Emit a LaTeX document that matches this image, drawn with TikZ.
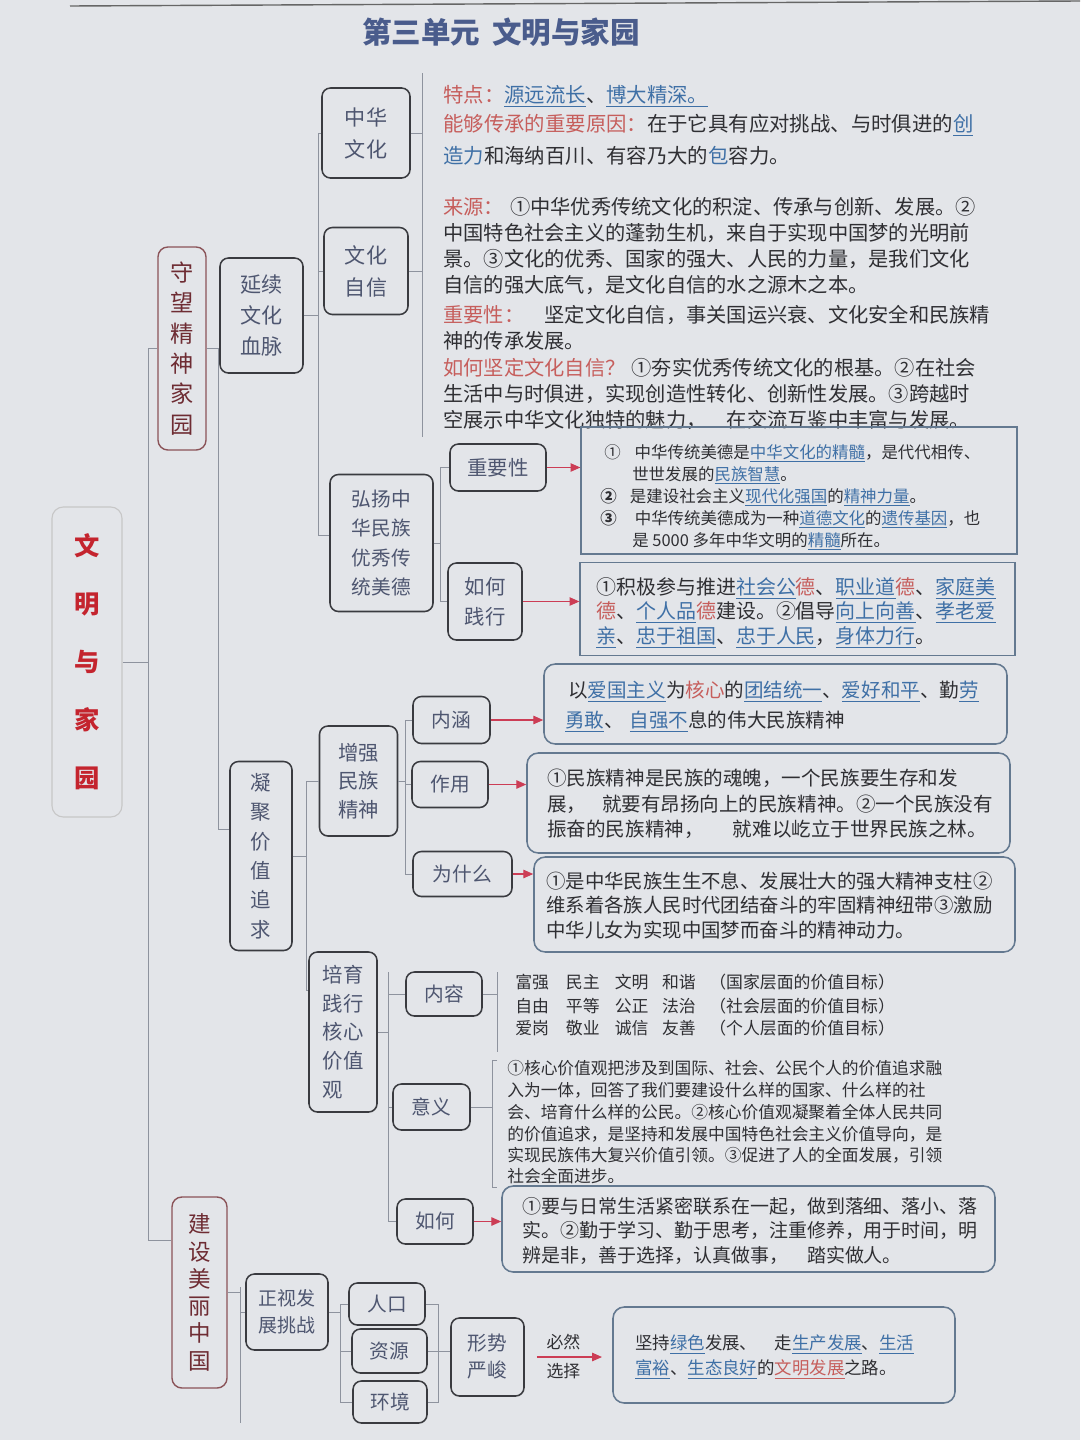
\documentclass[tikz,border=0pt]{standalone}
\usepackage{fontspec}
\setmainfont{Noto Sans CJK SC}
\usetikzlibrary{arrows.meta}
\definecolor{bg}{HTML}{E3E5E9}
\definecolor{ink}{HTML}{2F2F33}
\definecolor{boxtxt}{HTML}{4E5670}
\definecolor{bxcol}{HTML}{3A3B40}
\definecolor{lncol}{HTML}{8E939E}
\definecolor{cred}{HTML}{C65E5C}
\definecolor{cblue}{HTML}{3F70A6}
\definecolor{arrcol}{HTML}{CC3D55}
\definecolor{tbcol}{HTML}{647990}
\definecolor{redbx}{HTML}{8A5358}
\definecolor{redtxt}{HTML}{6E2C33}
\definecolor{rootred}{HTML}{C4242E}
\definecolor{titlec}{HTML}{4A5C8C}
\newcommand\xbu[1]{{\color{cblue}\underline{#1}}}
\newcommand\xru[1]{{\color{cred}\underline{#1}}}
\newcommand\xrd[1]{{\color{cred}#1}}
\newcommand\xbl[1]{{\color{cblue}#1}}
\newcommand\Tline[4]{\node[fs=#1] (#2) at (#3) {#4};}
\begin{document}
\begin{tikzpicture}[x=0.025cm,y=-0.025cm,
  ln/.style={draw=lncol, line width=0.6pt},
  sz/.style 2 args={minimum width=#1*0.025cm, minimum height=#2*0.025cm},
  ff/.style 2 args={font=\fontsize{#1pt}{#2pt}\selectfont},
  fb/.style 2 args={font=\fontsize{#1pt}{#2pt}\selectfont\bfseries},
  bx/.style={draw=bxcol, line width=1.1pt, rounded corners=6pt, text=boxtxt, align=center, inner sep=0pt},
  rb/.style={draw=redbx, line width=1pt, rounded corners=7pt, text=redtxt, align=center, inner sep=0pt},
  tbx/.style={draw=tbcol, line width=1.1pt, rounded corners=8pt},
  sq/.style={draw=tbcol, line width=0.9pt},
  arr/.style={draw=arrcol, line width=0.8pt, -{Triangle[length=7pt,width=6pt]}},
  fs/.style={font=\fontsize{#1pt}{#1pt}\selectfont, anchor=base west, yshift=-0.38*#1pt, inner sep=0pt, text=ink},
]
\fill[bg] (0,0) rectangle (1080,1440);
\useasboundingbox (0,0) rectangle (1080,1440);
\draw[black!60, line width=1pt] (70,6) -- (1080,1);

% title
\node[fb={21}{21}, text=titlec] (title) at (501,32) {第三单元\hspace{0.4em}文明与家园};

% root
\node[draw=black!22, line width=0.8pt, rounded corners=8pt, sz={70}{310}, fb={18}{41.2}, text=rootred, align=center, inner sep=0pt] (root) at (87,662) {文\\明\\与\\家\\园};

% level 1
\node[rb, sz={48}{203}, ff={16.5}{21.6}] (sw) at (182,348.5) {守\\望\\精\\神\\家\\园};
\node[rb, sz={55}{191}, ff={16}{19.4}] (js) at (199.5,1292.5) {建\\设\\美\\丽\\中\\国};
\draw[ln] (root.east) -- (148,662);
\draw[ln] (sw.west) -- (148,348.5) -- (148,1240) -- (js.west |- 148,1240);

% level 2
\node[bx, sz={83}{115}, ff={15}{22}] (yx) at (261.5,315.5) {延续\\文化\\血脉};
\node[bx, sz={62}{189}, ff={14.5}{20.9}] (nj) at (261,856) {凝\\聚\\价\\值\\追\\求};
\draw[ln] (sw.east) -- (sw.east -| yx.west);
\draw[ln] (218,348.5) -- (218,829) -- (nj.west |- 218,829);

% 延续文化血脉
\node[bx, sz={88}{90}, ff={15}{22.75}] (zh) at (366,133) {中华\\文化};
\node[bx, sz={84}{87}, ff={15}{22.75}] (wz) at (366,271) {文化\\自信};
\node[bx, sz={103}{137}, ff={14}{21}] (hy) at (381.5,543) {弘扬中\\华民族\\优秀传\\统美德};
\draw[ln] (yx.east) -- (yx.east -| 318,0);
\draw[ln] (zh.west) -- (318,133) -- (318,535) -- (hy.west |- 318,535);
\draw[ln] (wz.west) -- (wz.west -| 318,0);
\draw[ln] (422,73) -- (422,437);
\draw[ln] (zh.east) -- (zh.east -| 422,0);
\draw[ln] (wz.east) -- (wz.east -| 422,0);

% text block A
\Tline{14.5}{a1}{443,95}{\xrd{特点：}\xbu{源远流长}、\xbu{博大精深。}}
\Tline{14.5}{a2}{443,124}{\xrd{能够传承的重要原因：}在于它具有应对挑战、与时俱进的\xbu{创}}
\Tline{14.5}{a3}{443,156}{\xbl{造力}和海纳百川、有容乃大的\xbl{包}容力。}

% text block B
\Tline{14.4}{b1}{443,207}{\xrd{来源：}\hspace{0.3em}①中华优秀传统文化的积淀、传承与创新、发展。②}
\Tline{14.4}{b2}{443,233}{中国特色社会主义的蓬勃生机，来自于实现中国梦的光明前}
\Tline{14.4}{b3}{443,259}{景。③文化的优秀、国家的强大、人民的力量，是我们文化}
\Tline{14.4}{b4}{443,285}{自信的强大底气，是文化自信的水之源木之本。}
\Tline{14.4}{b5}{443,315}{\xrd{重要性：}\hspace{1em}坚定文化自信，事关国运兴衰、文化安全和民族精}
\Tline{14.4}{b6}{443,341}{神的传承发展。}
\Tline{14.4}{b7}{443,368}{\xrd{如何坚定文化自信？}\hspace{0.3em}①夯实优秀传统文化的根基。②在社会}
\Tline{14.4}{b8}{443,394}{生活中与时俱进，实现创造性转化、创新性发展。③跨越时}
\Tline{14.4}{b9}{443,420}{空展示中华文化独特的魅力，\hspace{1em}在交流互鉴中丰富与发展。}

% 弘扬 children
\node[bx, sz={96}{47}, ff={14.5}{14.5}] (zy) at (498,467.5) {重要性};
\node[bx, sz={74}{77}, ff={14.5}{21.3}] (rh) at (485,601.5) {如何\\践行};
\draw[ln] (hy.east) -- (hy.east -| 440,0);
\draw[ln] (zy.west) -- (zy.west -| 440,0) -- (rh.west -| 440,0) -- (rh.west);
\node[sq, sz={436}{127}] (tb1) at (799,490.5) {};
\node[sq, sz={435}{93}] (tb2) at (797.5,609) {};
\draw[arr] (zy.east) -- (tb1.west |- zy.east);
\draw[arr] (rh.east) -- (tb2.west |- rh.east);

\Tline{11.7}{c1}{604,452}{①\hspace{0.85em}中华传统美德是\xbu{中华文化的精髓}，是代代相传、}
\Tline{11.7}{c2}{632,474}{世世发展的\xbu{民族智慧}。}
\Tline{11.7}{c3}{600,496}{{\bfseries ②}\hspace{0.8em}是建设社会主义\xbu{现代化强国}的\xbu{精神力量}。}
\Tline{11.7}{c4}{600,518}{{\bfseries ③}\hspace{1.1em}中华传统美德成为一种\xbu{道德文化}的\xbu{遗传基因}，也}
\Tline{11.7}{c5}{632,540}{是 5000 多年中华文明的\xbu{精髓}所在。}

\Tline{14.2}{d1}{596,587}{①积极参与推进\xbu{社会公}\xrd{德}、\xbu{职业道}\xrd{德}、\xbu{家庭美}}
\Tline{14.2}{d2}{596,611}{\xrd{德}、\xbu{个人品}\xrd{德}建设。②倡导\xbu{向上向善}、\xbu{孝老爱}}
\Tline{14.2}{d3}{596,636}{\xbu{亲}、\xbu{忠于祖国}、\xbu{忠于人民}，\xbu{身体力行}。}

% 凝聚价值追求 children
\node[bx, sz={78}{110}, ff={14.5}{20.3}] (zq) at (358.5,781) {增强\\民族\\精神};
\node[bx, sz={68}{160}, ff={14.5}{20.4}, align=left] (py) at (343,1032) {培育\\践行\\核心\\价值\\观};
\draw[ln] (nj.east) -- (nj.east -| 306,0);
\draw[ln] (zq.west) -- (306,781) -- (306,990) -- (py.west |- 306,990);

\node[bx, sz={77}{47}, ff={14}{14}] (nh) at (451.5,720) {内涵};
\node[bx, sz={76}{46}, ff={14}{14}] (zyo) at (450,784.5) {作用};
\node[bx, sz={99}{45}, ff={14}{14}] (wsm) at (462.5,874) {为什么};
\draw[ln] (nh.west) -- (405,720) -- (405,874) -- (wsm.west);
\draw[ln] (zyo.west) -- (zyo.west -| 405,0);
\draw[ln] (zq.east) -- (zq.east -| 405,0);

\node[tbx, sz={463}{80}] (tnh) at (775.5,704) {};
\node[tbx, sz={483}{100}] (tzy) at (768.5,803) {};
\node[tbx, sz={481}{95}] (twsm) at (774.5,904.5) {};
\draw[arr] (nh.east) -- (tnh.west |- nh.east);
\draw[arr] (zyo.east) -- (tzy.west |- zyo.east);
\draw[arr] (wsm.east) -- (twsm.west |- wsm.east);

\Tline{13.9}{e1}{568,690}{以\xbu{爱国主义}为\xrd{核心}的\xbu{团结统一}、\xbu{爱好和平}、勤\xbu{劳}}
\Tline{13.9}{e2}{565,720}{\xbu{勇敢}、\hspace{0.3em}\xbu{自强不}息的伟大民族精神}

\Tline{13.9}{f1}{547,778}{①民族精神是民族的魂魄，一个民族要生存和发}
\Tline{13.9}{f2}{547,804}{展，\hspace{0.8em}就要有昂扬向上的民族精神。②一个民族没有}
\Tline{13.9}{f3}{547,829}{振奋的民族精神，\hspace{1.5em}就难以屹立于世界民族之林。}

\Tline{13.8}{g1}{546,881}{①是中华民族生生不息、发展壮大的强大精神支柱②}
\Tline{13.8}{g2}{546,905}{维系着各族人民时代团结奋斗的牢固精神纽带③激励}
\Tline{13.8}{g3}{546,930}{中华儿女为实现中国梦而奋斗的精神动力。}

% 培育践行核心价值观 children
\node[bx, sz={76}{44}, ff={14}{14}] (nr) at (444,994) {内容};
\node[bx, sz={77}{46}, ff={14}{14}] (yy) at (431.5,1107) {意义};
\node[bx, sz={76}{45}, ff={14}{14}] (rh2) at (435,1221.5) {如何};
\draw[ln] (py.east) -- (py.east -| 388,0);
\draw[ln] (388,972) -- (388,1221.5) -- (rh2.west);
\draw[ln] (nr.west) -- (nr.west -| 388,0);
\draw[ln] (yy.west) -- (yy.west -| 388,0);
\draw[ln] (497,972) -- (497,1052);
\draw[ln] (nr.east) -- (nr.east -| 497,0);
\draw[ln] (497,1060) -- (492,1060) -- (492,1187) -- (497,1187);
\draw[ln] (yy.east) -- (yy.east -| 492,0);

\Tline{12}{h1}{515,982}{富强\hspace{1em}民主\hspace{0.9em}文明\hspace{0.8em}和谐\hspace{0.8em}（国家层面的价值目标）}
\Tline{12}{h2}{515,1006}{自由\hspace{1em}平等\hspace{0.9em}公正\hspace{0.8em}法治\hspace{0.8em}（社会层面的价值目标）}
\Tline{12}{h3}{515,1028}{爱岗\hspace{1em}敬业\hspace{0.9em}诚信\hspace{0.8em}友善\hspace{0.8em}（个人层面的价值目标）}

\Tline{11.9}{i1}{507,1068}{①核心价值观把涉及到国际、社会、公民个人的价值追求融}
\Tline{11.9}{i2}{507,1090}{入为一体，回答了我们要建设什么样的国家、什么样的社}
\Tline{11.9}{i3}{507,1112}{会、培育什么样的公民。②核心价值观凝聚着全体人民共同}
\Tline{11.9}{i4}{507,1134}{的价值追求，是坚持和发展中国特色社会主义价值导向，是}
\Tline{11.9}{i5}{507,1155}{实现民族伟大复兴价值引领。③促进了人的全面发展，引领}
\Tline{11.9}{i6}{507,1176}{社会全面进步。}

\node[tbx, sz={493}{86}] (trh) at (748.5,1229) {};
\draw[arr] (rh2.east) -- (trh.west |- rh2.east);
\Tline{13.5}{j1}{522,1206}{①要与日常生活紧密联系在一起，做到落细、落小、落}
\Tline{13.5}{j2}{522,1230}{实。②勤于学习、勤于思考，注重修养，用于时间，明}
\Tline{13.5}{j3}{522,1255}{辨是非，善于选择，认真做事，\hspace{1em}踏实做人。}

% 建设美丽中国 children
\node[bx, sz={82}{76}, ff={13.5}{19.2}] (zs) at (287,1312) {正视发\\展挑战};
\draw[ln] (js.east) -- (js.east -| 240,0);
\draw[ln] (240,1287) -- (240,1423);
\draw[ln] (zs.west) -- (zs.west -| 240,0);

\node[bx, sz={76}{42}, ff={14}{14}] (rk) at (387,1304) {人口};
\node[bx, sz={75}{44}, ff={14}{14}] (zyu) at (389.5,1351) {资源};
\node[bx, sz={74}{42}, ff={14}{14}] (hj) at (390,1402) {环境};
\draw[ln] (zs.east) -- (zs.east -| 340,0);
\draw[ln] (rk.west) -- (rk.west -| 340,0) -- (hj.west -| 340,0) -- (hj.west);
\draw[ln] (zyu.west) -- (zyu.west -| 340,0);

\node[bx, sz={73}{78}, ff={14}{19.2}] (xs) at (487.5,1357) {形势\\严峻};
\draw[ln] (rk.east) -- (rk.east -| 438,0) -- (hj.east -| 438,0) -- (hj.east);
\draw[ln] (zyu.east) -- (zyu.east -| 438,0);
\draw[ln] (zyu.east -| 438,0) -- (zyu.east -| xs.west);

\node[tbx, sz={342}{96}] (fbox) at (784,1355) {};
\coordinate (ae) at (602,1357);
\draw[arr, shorten <=0.3cm] (xs.east) -- (ae)
  node[midway, above=1pt, ff={12}{12}, text=ink] (bir) {必然}
  node[midway, below=1pt, ff={12}{12}, text=ink] (xze) {选择};
\Tline{12.4}{k1}{635,1343}{坚持\xbu{绿色}发展、\hspace{1em}走\xbu{生产发展}、\xbu{生活}}
\Tline{12.4}{k2}{635,1368}{\xbu{富裕}、\xbu{生态良好}的\xru{文明发展}之路。}
\end{tikzpicture}
\end{document}
